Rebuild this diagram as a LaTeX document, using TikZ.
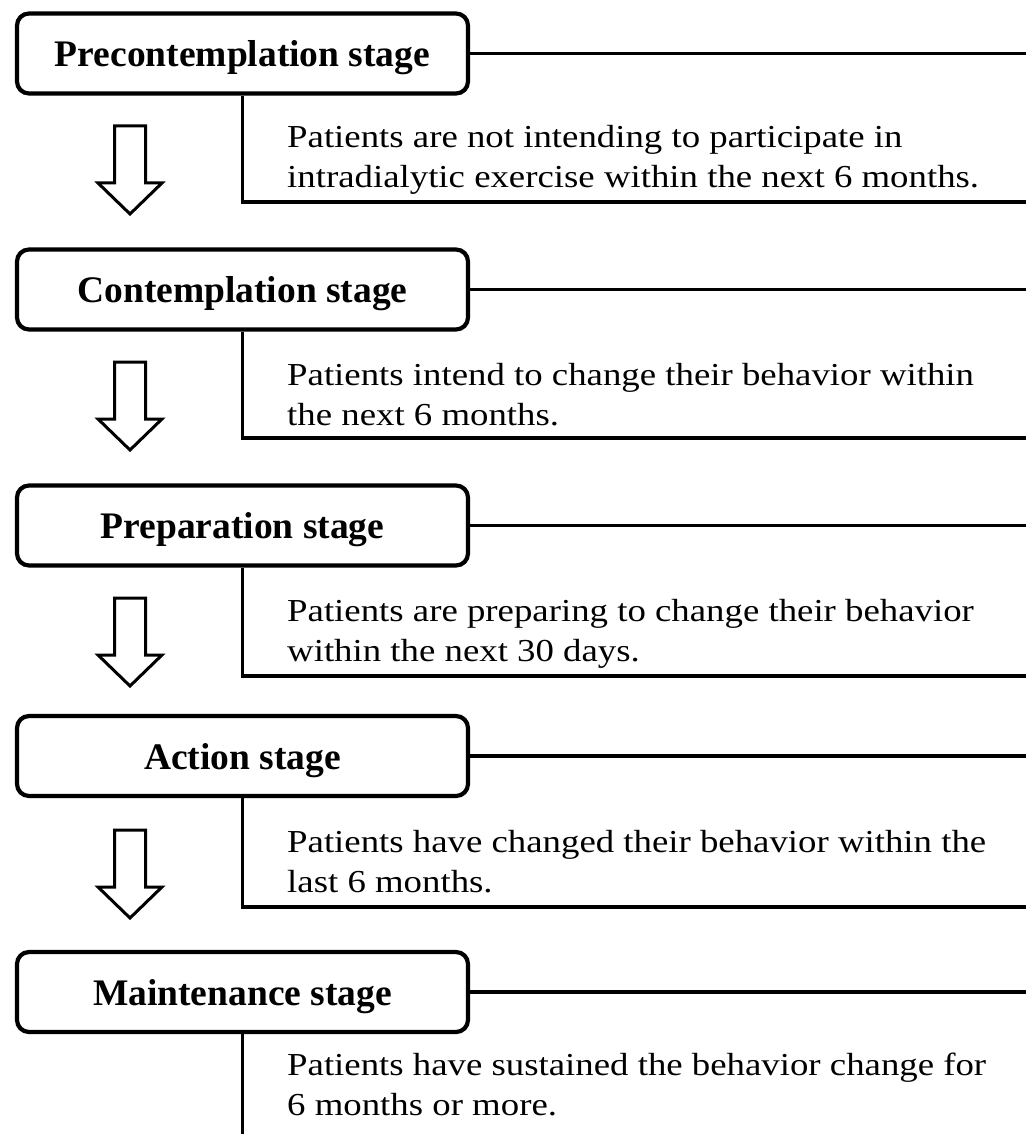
\documentclass[tikz,border=0pt]{standalone}
\usepackage{fontspec}
\setmainfont{Liberation Serif}
\newfontfamily\descfont{Liberation Serif}[FakeStretch=1.15]
\begin{document}
\begin{tikzpicture}[x=1pt,y=-1pt,
	stagebox/.style={draw, line width=4.2pt, rounded corners=12pt, minimum width=451pt, minimum height=80pt, inner sep=0pt, text height=26pt, text depth=0pt, font=\fontsize{37.5}{40}\selectfont\bfseries},
	desc/.style={anchor=north west, inner sep=0pt, align=left, font=\fontsize{32}{40}\selectfont\descfont},
	rule/.style={line width=3.2pt},
	blockarrow/.style={line width=3pt, line join=miter}]
	\useasboundingbox (0,0) rectangle (1026,1134);
	\coordinate (edge) at (1026,0);
	
	\node [stagebox] (pre) at (242.5,53.5) {Precontemplation stage};
	\node [desc] (predesc) at (287,125) {Patients are not intending to participate in\\intradialytic exercise within the next 6 months.};
	\coordinate (prebot) at (242.5,202);
	\draw [rule] (pre.east) -- (pre.east -| edge);
	\draw [rule] (pre.south) -- (prebot) -- (prebot -| edge);
	\coordinate (prearr) at (130,126);
	\draw [blockarrow] (prearr) ++(-15.5,0) -- ++(0,57) -- ++(-16.5,0) -- ++(32,31) -- ++(32,-31) -- ++(-16.5,0) -- ++(0,-57) -- cycle;
	
	\node [stagebox] (con) at (242.5,289.5) {Contemplation stage};
	\node [desc] (condesc) at (287,363) {Patients intend to change their behavior within\\the next 6 months.};
	\coordinate (conbot) at (242.5,438);
	\draw [rule] (con.east) -- (con.east -| edge);
	\draw [rule] (con.south) -- (conbot) -- (conbot -| edge);
	\coordinate (conarr) at (130,362);
	\draw [blockarrow] (conarr) ++(-15.5,0) -- ++(0,57) -- ++(-16.5,0) -- ++(32,31) -- ++(32,-31) -- ++(-16.5,0) -- ++(0,-57) -- cycle;
	
	\node [stagebox] (prep) at (242.5,525.5) {Preparation stage};
	\node [desc] (prepdesc) at (287,599) {Patients are preparing to change their behavior\\within the next 30 days.};
	\coordinate (prepbot) at (242.5,676);
	\draw [rule] (prep.east) -- (prep.east -| edge);
	\draw [rule] (prep.south) -- (prepbot) -- (prepbot -| edge);
	\coordinate (preparr) at (130,598);
	\draw [blockarrow] (preparr) ++(-15.5,0) -- ++(0,57) -- ++(-16.5,0) -- ++(32,31) -- ++(32,-31) -- ++(-16.5,0) -- ++(0,-57) -- cycle;
	
	\node [stagebox] (act) at (242.5,756) {Action stage};
	\node [desc] (actdesc) at (287,830) {Patients have changed their behavior within the\\last 6 months.};
	\coordinate (actbot) at (242.5,907);
	\draw [rule] (act.east) -- (act.east -| edge);
	\draw [rule] (act.south) -- (actbot) -- (actbot -| edge);
	\coordinate (actarr) at (130,830);
	\draw [blockarrow] (actarr) ++(-15.5,0) -- ++(0,57) -- ++(-16.5,0) -- ++(32,31) -- ++(32,-31) -- ++(-16.5,0) -- ++(0,-57) -- cycle;
	
	\node [stagebox] (main) at (242.5,992) {Maintenance stage};
	\node [desc] (maindesc) at (287,1053) {Patients have sustained the behavior change for\\6 months or more.};
	\coordinate (mainbot) at (242.5,1134);
	\draw [rule] (main.east) -- (main.east -| edge);
	\draw [rule] (main.south) -- (mainbot);
	
\end{tikzpicture}
\end{document}
